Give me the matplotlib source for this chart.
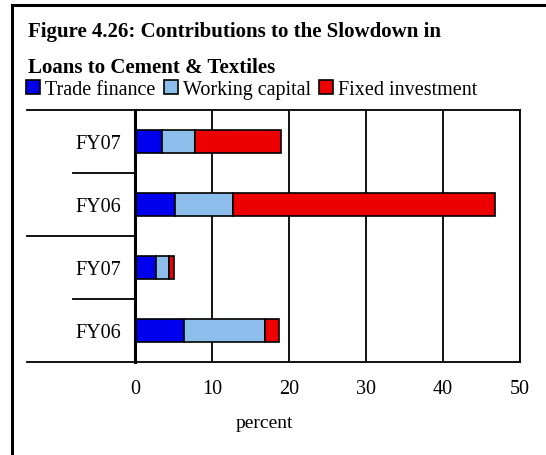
import matplotlib.pyplot as plt
from matplotlib.lines import Line2D
import numpy as np

plt.rcParams['font.family'] = ['Liberation Serif', 'DejaVu Serif']

# bars listed bottom to top
labels = ['FY06', 'FY07', 'FY06', 'FY07']
trade_finance = [6.4, 2.7, 5.2, 3.5]
working_capital = [10.5, 1.7, 7.5, 4.3]
fixed_investment = [1.8, 0.6, 34.0, 11.1]
series_names = ['Trade finance', 'Working capital', 'Fixed investment']
colors = ['#0000ee', '#8dbdeb', '#ee0000']

W, H = 546, 456
fig = plt.figure(figsize=(W / 100, H / 100), dpi=100)
ax = fig.add_axes([135 / W, 1 - 363 / H, 385 / W, 252 / H])

y = np.arange(len(labels))
left = np.zeros(len(labels))
handles = []
for vals, name, c in zip([trade_finance, working_capital, fixed_investment], series_names, colors):
    b = ax.barh(y, vals, left=left, height=0.38, color=c, edgecolor='black',
                linewidth=1.2, label=name, zorder=3)
    handles.append(b)
    left = left + np.array(vals)

ax.set_xlim(0, 50)
ax.set_ylim(-0.5, len(labels) - 0.5)
ax.set_xticks([0, 10, 20, 30, 40, 50])
ax.set_yticks(y)
ax.set_yticklabels(labels)
ax.tick_params(axis='both', length=0, labelsize=14.5)
ax.tick_params(axis='x', pad=12)
ax.tick_params(axis='y', pad=10)
ax.grid(axis='x', color='black', linewidth=1.3, zorder=1)

for s in ['top', 'bottom', 'right']:
    ax.spines[s].set_linewidth(1.3)
ax.spines['left'].set_linewidth(2.2)
ax.spines['left'].set_zorder(4)

# category separators extending to the left
trans = ax.get_yaxis_transform()
for yy, x0 in [(-0.5, -0.28), (0.5, -0.161), (1.5, -0.28), (2.5, -0.161), (3.5, -0.28)]:
    ax.add_line(Line2D([x0, 0], [yy, yy], transform=trans, color='black',
                       linewidth=1.3, clip_on=False))

fig.text(264 / W, 1 - 428 / H, 'percent', ha='center', va='baseline', fontsize=14)

fig.text(28 / W, 1 - 37 / H, 'Figure 4.26: Contributions to the Slowdown in',
         fontsize=15, fontweight='bold', va='baseline')
fig.text(28 / W, 1 - 73 / H, 'Loans to Cement & Textiles',
         fontsize=15, fontweight='bold', va='baseline')

ax.legend(handles=handles, loc='upper left', ncol=3, frameon=False,
          bbox_to_anchor=(26 / W, 1 - 81 / H), bbox_transform=fig.transFigure,
          fontsize=14.5, handlelength=0.7, handleheight=0.7, handletextpad=0.25,
          columnspacing=0.4, borderpad=0, borderaxespad=0)

# outer frame (left and top edges)
fig.add_artist(Line2D([12 / W, 12 / W], [0, 1 - 6 / H], color='black', linewidth=2.2))
fig.add_artist(Line2D([12 / W, 1], [1 - 6 / H, 1 - 6 / H], color='black', linewidth=2.2))

fig.savefig('out.png', dpi=100)
